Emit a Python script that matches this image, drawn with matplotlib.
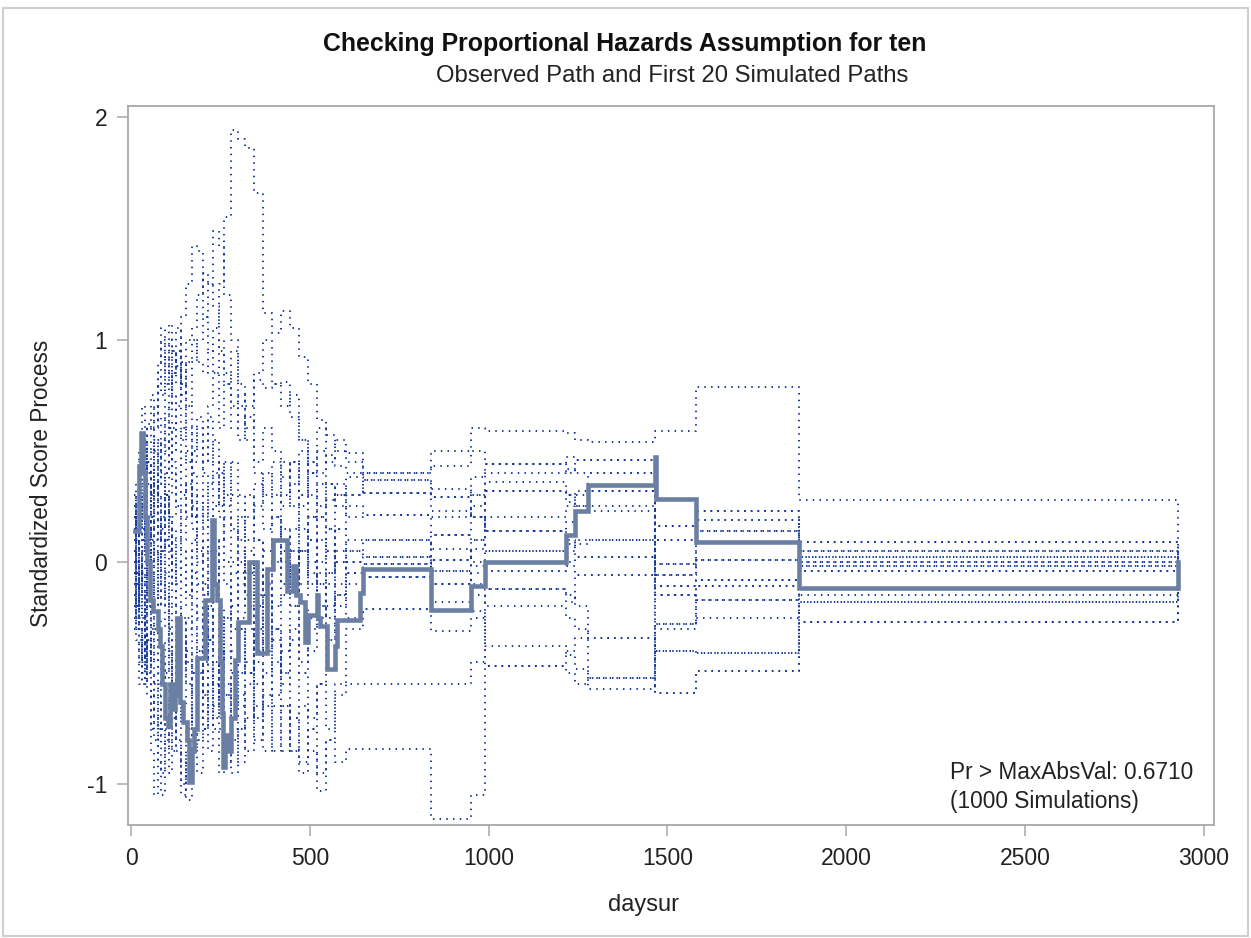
import matplotlib
matplotlib.use("Agg")
import matplotlib.pyplot as plt
from matplotlib.patches import Rectangle

plt.rcParams['font.family'] = ['Liberation Sans', 'DejaVu Sans']

# ---------------- data ----------------
obs_days = [11, 22, 27, 33, 40, 46, 52, 62, 75, 81, 88, 95, 104, 110, 117, 123, 128,
            137, 146, 156, 163, 170, 177, 184, 207, 226, 232, 240, 250, 254, 258, 263,
            270, 280, 291, 300, 330, 351, 379, 398, 435, 454, 460, 472, 486, 496, 519,
            524, 528, 547, 570, 575, 640, 650, 839, 952, 991, 1216, 1241, 1279, 1466,
            1468, 1581, 1868, 2927]
obs_vals = [0.14, 0.43, 0.58, 0.40, 0.20, 0.00, -0.17, -0.22, -0.30, -0.38, -0.55, -0.70,
            -0.74, -0.55, -0.66, -0.60, -0.25, -0.63, -0.72, -0.80, -0.99, -0.85, -0.75,
            -0.43, -0.17, 0.19, -0.10, -0.17, -0.45, -0.68, -0.92, -0.78, -0.85, -0.70,
            -0.44, -0.27, 0.00, -0.41, -0.03, 0.10, -0.13, -0.02, -0.15, -0.18, -0.36,
            -0.24, -0.15, -0.25, -0.29, -0.48, -0.38, -0.26, -0.14, -0.03, -0.216,
            -0.108, 0.00, 0.12, 0.23, 0.346, 0.473, 0.283, 0.091, -0.118, 0.00]

sim_days = [8, 15, 22, 30, 38, 46, 55, 65, 75, 85, 95, 105, 115, 125, 140, 155, 170,
            185, 200, 215, 230, 245, 260, 280, 300, 320, 345, 370, 395, 420, 445, 470,
            495, 520, 545, 570, 600, 650, 839, 952, 991, 1216, 1241, 1279, 1466, 1581,
            1868, 2927]

# early part of each simulated path (days 8 .. 600)
sim01_early = [0.10, 0.25, 0.40, 0.55, 0.45, 0.62, 0.50, 0.70, 0.85, 0.75, 0.92, 0.80, 0.95, 0.88, 0.75, 0.90, 1.00, 0.90, 0.85, 0.95, 1.05, 1.25, 1.55, 1.94, 1.90, 1.86, 1.66, 1.12, 1.03, 1.13, 1.05, 0.92, 0.80, 0.64, 0.57, 0.50, 0.49]
sim02_early = [0.05, -0.10, 0.20, 0.35, 0.20, 0.45, 0.30, 0.55, 0.40, 0.65, 0.50, 0.70, 0.85, 0.95, 0.80, 1.00, 1.05, 1.20, 1.30, 1.25, 1.49, 1.42, 1.20, 1.00, 0.80, 0.70, 0.82, 0.78, 0.80, 0.81, 0.65, 0.55, 0.45, 0.40, 0.48, 0.43, 0.40]
sim03_early = [-0.10, 0.05, 0.25, 0.10, 0.40, 0.60, 0.75, 0.60, 0.90, 1.05, 0.85, 1.07, 0.95, 0.80, 1.10, 1.25, 1.42, 1.40, 1.10, 0.95, 0.85, 1.00, 0.80, 0.60, 0.75, 0.55, 0.45, 0.60, 0.50, 0.38, 0.45, 0.30, 0.40, 0.25, 0.35, 0.30, 0.38]
sim04_early = [0.20, 0.35, 0.15, 0.30, 0.55, 0.40, 0.20, 0.35, 0.10, 0.30, 0.55, 0.40, 0.60, 0.75, 0.55, 0.70, 0.90, 1.00, 1.10, 1.25, 1.15, 0.95, 0.85, 0.70, 0.55, 0.65, 0.40, 0.30, 0.45, 0.25, 0.35, 0.50, 0.30, 0.20, 0.28, 0.35, 0.30]
sim05_early = [0.25, 0.10, -0.15, 0.05, 0.20, -0.05, 0.15, 0.40, 0.25, 0.05, 0.30, 0.15, -0.10, 0.10, 0.35, 0.20, 0.50, 0.65, 0.45, 0.70, 0.85, 0.60, 0.80, 0.95, 0.70, 0.60, 0.85, 1.00, 0.80, 0.70, 0.75, 0.55, 0.40, 0.50, 0.35, 0.25, 0.30]
sim06_early = [-0.20, 0.05, 0.30, 0.15, -0.10, 0.20, 0.45, 0.25, 0.00, 0.20, 0.40, 0.60, 0.45, 0.25, 0.05, -0.15, 0.10, 0.30, 0.15, 0.35, 0.55, 0.40, 0.25, 0.45, 0.30, 0.10, 0.25, 0.40, 0.20, 0.05, 0.15, 0.30, 0.10, 0.20, 0.05, 0.15, 0.25]
sim07_early = [0.15, 0.30, 0.50, 0.70, 0.55, 0.35, 0.10, -0.15, 0.05, -0.20, 0.10, -0.05, 0.20, 0.40, 0.60, 0.45, 0.20, 0.00, 0.25, 0.05, -0.15, 0.10, 0.30, 0.15, -0.05, 0.20, 0.35, 0.15, 0.30, 0.45, 0.25, 0.05, 0.20, 0.35, 0.15, 0.30, 0.20]
sim08_early = [-0.05, -0.25, -0.45, -0.30, -0.55, -0.35, -0.60, -0.80, -0.55, -0.75, -0.50, -0.30, -0.55, -0.70, -0.45, -0.25, -0.50, -0.30, -0.10, -0.35, -0.15, 0.10, -0.10, -0.30, -0.10, 0.05, -0.15, 0.05, 0.20, 0.00, -0.20, 0.05, 0.20, 0.00, 0.15, 0.00, 0.10]
sim09_early = [0.30, 0.10, -0.10, -0.30, -0.10, -0.40, -0.20, 0.05, -0.25, -0.45, -0.65, -0.40, -0.20, 0.00, -0.25, -0.45, -0.70, -0.50, -0.75, -0.55, -0.30, -0.50, -0.25, -0.05, -0.30, -0.50, -0.25, -0.40, -0.20, 0.00, -0.15, 0.05, -0.10, 0.10, -0.05, 0.15, 0.05]
sim10_early = [0.00, 0.20, 0.00, -0.25, -0.45, -0.20, -0.50, -0.70, -0.90, -1.05, -0.80, -0.60, -0.85, -0.65, -0.90, -1.07, -0.85, -0.60, -0.40, -0.65, -0.45, -0.70, -0.90, -0.70, -0.50, -0.30, -0.55, -0.35, -0.60, -0.40, -0.20, -0.45, -0.25, -0.05, -0.20, 0.00, 0.05]
sim11_early = [-0.15, -0.35, -0.55, -0.35, -0.15, 0.10, 0.30, 0.50, 0.30, 0.10, -0.15, -0.40, -0.60, -0.85, -1.00, -0.75, -0.50, -0.70, -0.45, -0.20, -0.40, -0.60, -0.80, -0.95, -0.75, -0.55, -0.80, -0.60, -0.85, -0.65, -0.85, -0.95, -0.75, -0.55, -0.35, -0.15, 0.00]
sim12_early = [0.20, 0.00, -0.20, 0.05, 0.25, 0.50, 0.30, 0.10, 0.35, 0.55, 0.80, 1.00, 0.75, 0.50, 0.30, 0.50, 0.25, 0.05, -0.15, 0.05, 0.25, 0.45, 0.20, 0.00, 0.20, 0.00, -0.20, -0.05, 0.10, -0.10, 0.05, -0.15, 0.00, -0.20, -0.05, 0.05, -0.05]
sim13_early = [-0.25, -0.05, 0.15, -0.05, -0.30, -0.50, -0.30, -0.55, -0.75, -0.95, -0.75, -0.95, -0.70, -0.45, -0.65, -0.40, -0.60, -0.80, -0.60, -0.85, -0.65, -0.40, -0.60, -0.40, -0.65, -0.45, -0.70, -0.50, -0.30, -0.50, -0.30, -0.50, -0.30, -0.10, -0.25, -0.15, -0.10]
sim14_early = [0.05, 0.25, 0.45, 0.25, 0.05, -0.20, 0.05, 0.30, 0.55, 0.35, 0.10, 0.30, 0.50, 0.70, 0.90, 0.70, 0.45, 0.60, 0.40, 0.20, 0.40, 0.20, 0.00, -0.20, 0.00, -0.20, -0.40, -0.20, 0.00, 0.15, -0.05, 0.15, -0.05, -0.25, -0.10, -0.20, -0.05]
sim15_early = [-0.10, -0.30, -0.10, 0.15, 0.35, 0.15, -0.05, -0.30, -0.10, 0.15, 0.40, 0.20, 0.00, -0.25, -0.50, -0.30, -0.05, -0.25, -0.50, -0.30, -0.55, -0.75, -0.55, -0.75, -0.90, -0.70, -0.45, -0.65, -0.45, -0.65, -0.85, -0.65, -0.85, -1.03, -0.80, -0.55, -0.30]
sim16_early = [0.10, -0.10, -0.30, -0.50, -0.30, -0.55, -0.75, -0.55, -0.30, -0.55, -0.35, -0.10, 0.15, -0.10, 0.10, 0.35, 0.15, -0.10, 0.10, -0.15, 0.05, -0.20, -0.40, -0.20, 0.05, -0.15, -0.35, -0.15, -0.35, -0.55, -0.35, -0.20, -0.40, -0.20, -0.35, -0.15, -0.25]
sim17_early = [-0.30, -0.10, -0.35, -0.55, -0.35, -0.60, -0.85, -1.05, -0.80, -0.60, -0.85, -0.65, -0.40, -0.60, -0.35, -0.55, -0.80, -0.95, -0.75, -0.55, -0.75, -0.95, -0.70, -0.50, -0.30, -0.50, -0.30, -0.10, -0.30, -0.50, -0.70, -0.50, -0.70, -0.55, -0.75, -0.60, -0.55]
sim18_early = [0.00, -0.20, 0.05, -0.15, -0.40, -0.20, -0.45, -0.25, -0.50, -0.30, -0.05, -0.30, -0.55, -0.80, -1.05, -0.85, -0.65, -0.40, -0.60, -0.35, -0.15, -0.40, -0.60, -0.80, -0.60, -0.85, -0.65, -0.85, -0.65, -0.85, -0.70, -0.90, -0.75, -0.95, -0.80, -0.90, -0.84]
sim19_early = [-0.05, 0.15, 0.35, 0.55, 0.30, 0.10, 0.35, 0.60, 0.80, 1.00, 0.80, 0.60, 0.85, 1.05, 0.80, 0.60, 0.40, 0.20, 0.45, 0.65, 0.45, 0.25, 0.45, 0.30, 0.10, 0.30, 0.10, -0.10, 0.10, 0.30, 0.45, 0.25, 0.45, 0.60, 0.45, 0.55, 0.45]
sim20_early = [0.15, -0.05, -0.25, -0.45, -0.25, -0.05, 0.20, 0.00, -0.20, 0.05, 0.30, 0.05, -0.20, -0.40, -0.20, 0.05, -0.20, -0.40, -0.20, -0.45, -0.70, -0.50, -0.25, -0.45, -0.25, -0.05, 0.10, -0.10, -0.30, -0.15, 0.05, -0.10, 0.10, -0.10, 0.05, -0.10, 0.00]

# late part of each simulated path (days 650 .. 2927)
sim01_late = [0.40, 0.50, 0.60, 0.59, 0.58, 0.55, 0.54, 0.59, 0.785, 0.28, 0.0]
sim02_late = [0.40, 0.43, 0.50, 0.44, 0.47, 0.46, 0.46, 0.16, 0.23, 0.09, 0.0]
sim03_late = [0.37, 0.33, 0.30, 0.20, 0.25, 0.30, 0.32, -0.06, 0.01, 0.00, 0.0]
sim04_late = [0.37, 0.29, 0.38, 0.40, 0.42, 0.40, 0.40, 0.10, 0.19, -0.02, 0.0]
sim05_late = [0.31, 0.23, 0.20, 0.14, 0.05, 0.08, 0.10, -0.15, -0.17, -0.12, 0.0]
sim06_late = [0.21, 0.12, 0.10, 0.05, 0.10, 0.02, 0.02, -0.30, -0.25, -0.15, 0.0]
sim07_late = [0.21, 0.20, 0.30, 0.32, 0.27, 0.25, 0.25, -0.01, 0.14, 0.05, 0.0]
sim08_late = [0.10, 0.06, -0.02, -0.04, -0.02, -0.06, -0.06, -0.40, -0.41, -0.27, 0.0]
sim09_late = [0.10, 0.01, 0.06, 0.36, 0.30, 0.23, 0.23, -0.11, -0.08, 0.02, 0.0]
sim10_late = [0.02, -0.04, -0.10, -0.12, -0.15, -0.20, -0.34, -0.59, -0.49, -0.18, 0.0]
sim11_late = [0.02, -0.10, -0.15, -0.20, -0.25, -0.30, -0.52, -0.28, -0.11, -0.04, 0.0]
sim12_late = [-0.01, -0.18, -0.22, -0.38, -0.42, -0.48, -0.57, -0.28, -0.17, -0.12, 0.0]
sim13_late = [-0.07, -0.31, -0.25, -0.47, -0.50, -0.55, -0.52, -0.40, -0.41, -0.18, 0.0]
sim14_late = [-0.07, 0.12, 0.25, 0.44, 0.40, 0.46, 0.46, 0.16, 0.23, 0.09, 0.0]
sim15_late = [-0.21, -0.04, 0.00, -0.04, 0.00, 0.02, 0.02, -0.15, -0.11, -0.04, 0.0]
sim16_late = [-0.21, -0.10, -0.05, 0.05, 0.08, 0.10, 0.10, -0.06, 0.01, 0.00, 0.0]
sim17_late = [-0.55, -0.55, -0.45, -0.12, -0.18, -0.06, -0.06, -0.11, -0.08, -0.02, 0.0]
sim18_late = [-0.84, -1.155, -1.05, -0.47, -0.40, -0.34, -0.34, -0.59, -0.49, -0.27, 0.0]
sim19_late = [0.31, 0.29, 0.20, 0.14, 0.18, 0.25, 0.40, 0.10, 0.19, 0.05, 0.0]
sim20_late = [-0.01, 0.01, 0.10, 0.32, 0.30, 0.32, 0.32, -0.01, 0.14, 0.02, 0.0]

sim_early = [sim01_early, sim02_early, sim03_early, sim04_early, sim05_early,
             sim06_early, sim07_early, sim08_early, sim09_early, sim10_early,
             sim11_early, sim12_early, sim13_early, sim14_early, sim15_early,
             sim16_early, sim17_early, sim18_early, sim19_early, sim20_early]
sim_late = [sim01_late, sim02_late, sim03_late, sim04_late, sim05_late,
            sim06_late, sim07_late, sim08_late, sim09_late, sim10_late,
            sim11_late, sim12_late, sim13_late, sim14_late, sim15_late,
            sim16_late, sim17_late, sim18_late, sim19_late, sim20_late]

title = "Checking Proportional Hazards Assumption for ten"
subtitle = "Observed Path and First 20 Simulated Paths"
xlabel = "daysur"
ylabel = "Standardized Score Process"
xticks = [0, 500, 1000, 1500, 2000, 2500, 3000]
yticks = [-1, 0, 1, 2]
note_lines = ["Pr > MaxAbsVal: 0.6710", "(1000 Simulations)"]

# ---------------- figure ----------------
W, H = 1251, 938
fig = plt.figure(figsize=(W / 100, H / 100), dpi=100)
fig.patches.append(Rectangle((0.002, 0.002), 0.996, 0.990, transform=fig.transFigure,
                             fill=False, edgecolor='#d0d0d0', linewidth=1.5))

ax = fig.add_axes([128 / W, 1 - 825 / H, (1214 - 128) / W, (825 - 106) / H])

sim_color = '#16389b'
obs_color = '#6b7fa3'
for e, l in zip(sim_early, sim_late):
    vals = list(e) + list(l)
    ax.step(sim_days, vals, where='post', color=sim_color, linewidth=1.4,
            linestyle=(0, (0.75, 2.7)), zorder=2)

ax.step(obs_days, obs_vals, where='post', color=obs_color, linewidth=3.3,
        solid_joinstyle='miter', zorder=3)

ax.set_xlim(-8.4, 3028)
ax.set_ylim(-1.183, 2.05)
ax.set_xticks(xticks)
ax.set_yticks(yticks)
ax.set_yticklabels([str(v) for v in yticks])
for sp in ax.spines.values():
    sp.set_color('#a8a8a8')
    sp.set_linewidth(1.3)
ax.tick_params(axis='both', direction='out', length=8, width=1.1, color='#a8a8a8',
               labelsize=16.5, labelcolor='#222222')
ax.tick_params(axis='x', pad=8)
ax.tick_params(axis='y', pad=7)

fig.text(644 / W, 1 - 905 / H, xlabel, ha='center', va='center', fontsize=17,
         color='#222222')
fig.text(42 / W, 1 - 483 / H, ylabel, ha='center', va='center', fontsize=16.3,
         color='#222222', rotation=90)

fig.text(625 / W, 1 - 44 / H, title, ha='center', va='center', fontsize=17.9,
         fontweight='bold', color='#111111')
fig.text(672 / W, 1 - 76 / H, subtitle, ha='center', va='center', fontsize=17.2,
         color='#222222')

for i, line in enumerate(note_lines):
    fig.text(950 / W, 1 - (772 + 29 * i) / H, line, ha='left', va='center',
             fontsize=16.3, color='#222222')

fig.savefig('out.png', dpi=100, facecolor='white')
